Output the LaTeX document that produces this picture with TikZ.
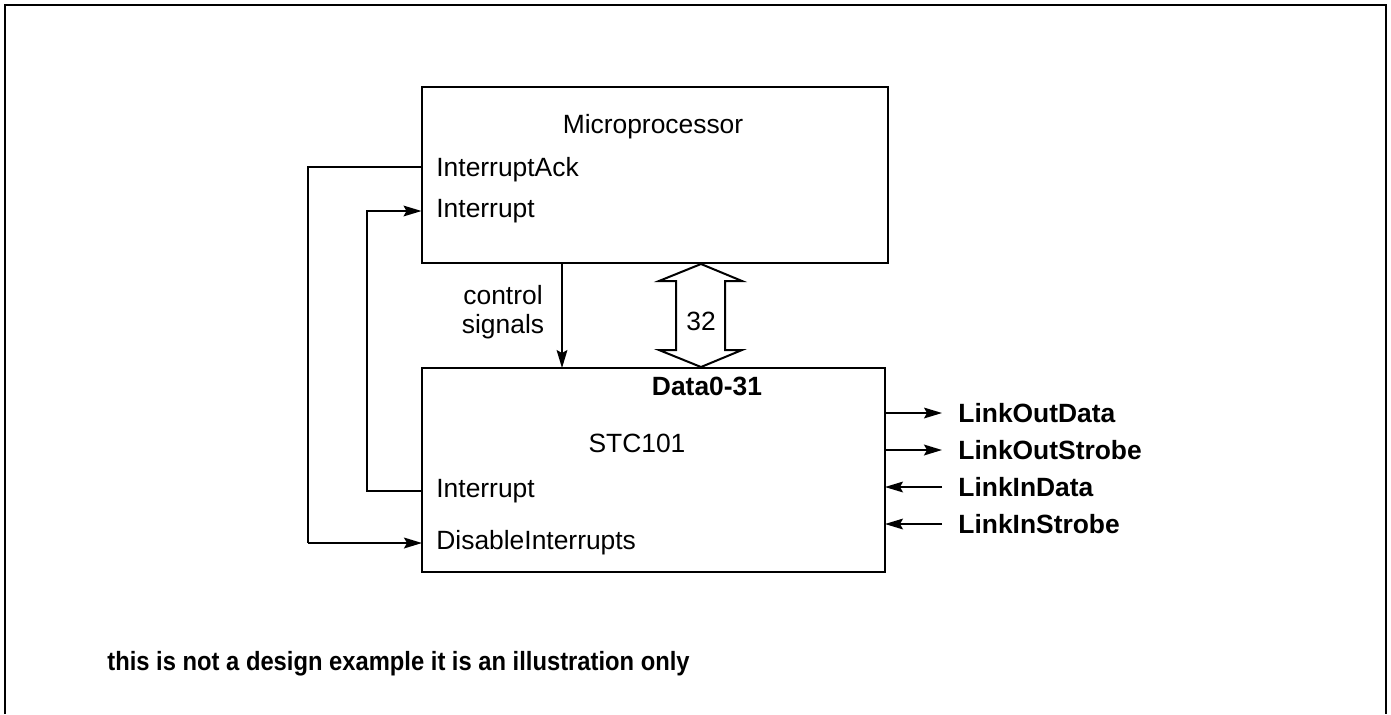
\documentclass[tikz,border=0pt]{standalone}
\usepackage{fontspec}
\setmainfont{Liberation Sans}
\usetikzlibrary{arrows.meta,calc}
\begin{document}
\begin{tikzpicture}[x=0.5pt,y=-0.5pt,
  blk/.style={draw,line width=1pt,rectangle,inner sep=0pt,outer sep=0pt},
  lbl/.style={font=\fontsize{13.2}{15}\selectfont,inner sep=0pt,anchor=west},
  blbl/.style={font=\fontsize{13.2}{15}\selectfont\bfseries,inner sep=0pt,anchor=west},
  wire/.style={line width=0.75pt},
  arr/.style={wire,-{Stealth[length=9pt,width=5.4pt,inset=1.5pt]}}]
\useasboundingbox (0,0) rectangle (1391,714);
\draw[line width=1pt] (5,714) -- (5,5) -- (1386,5) -- (1386,714);
% blocks
\node[blk,minimum width=233pt,minimum height=88pt] (mp) at (654.5,175) {};
\node[blk,minimum width=231.5pt,minimum height=102pt] (stc) at (653.5,470) {};
\node[font=\fontsize{13.2}{15}\selectfont,inner sep=0pt] (mpt) at (653,127) {Microprocessor};
\node[font=\fontsize{13.2}{15}\selectfont,inner sep=0pt] (stct) at (637,443) {STC101};
\node[font=\fontsize{13.2}{15}\selectfont\bfseries,inner sep=0pt] (dat) at (707,386) {Data0-31};
% left labels
\node[lbl] (ack) at (436,170) {InterruptAck};
\node[lbl] (mint) at (436,211) {Interrupt};
\node[lbl] (sint) at (436,491) {Interrupt};
\node[lbl] (dis) at (436,543) {DisableInterrupts};
\coordinate (c1) at (308,167);
\coordinate (c2) at (367,211);
% wires
\draw[wire] (mp.west |- c1) -- (c1) -- (c1 |- dis);
\draw[arr,line width=1pt] (c1 |- dis) -- (stc.west |- dis);
\draw[arr] (stc.west |- sint) -- (c2 |- sint) -- (c2) -- (mp.west |- c2);
% control signals
\coordinate (cs) at (562,263);
\draw[arr] (cs) -- (cs |- stc.north);
\node[font=\fontsize{13.2}{15}\selectfont,align=center,inner sep=0pt] (cst) at (503,312) {control\\[-0.5pt]signals};
% bus
\draw[line width=1pt,line join=miter] (701,264) -- (742,281) -- (725,281) -- (725,350) -- (742,350) -- (701,367) -- (659,350) -- (676,350) -- (676,281) -- (659,281) -- cycle;
\node[font=\fontsize{13.2}{15}\selectfont,inner sep=0pt] (bw) at (701,321) {32};
% right side links
\node[blbl] (lod) at (958,413) {LinkOutData};
\node[blbl] (los) at (958,450) {LinkOutStrobe};
\node[blbl] (lid) at (958,487) {LinkInData};
\node[blbl] (lis) at (958,524) {LinkInStrobe};
\coordinate (re) at (942,413);
\draw[arr] (stc.east |- lod) -- (re |- lod);
\draw[arr,line width=1pt] (stc.east |- los) -- (re |- los);
\draw[arr] (re |- lid) -- (stc.east |- lid);
\draw[arr] (re |- lis) -- (stc.east |- lis);
% note
\node[blbl] (note) at (107,664) {\scalebox{0.9}[1]{this is not a design example it is an illustration only}};
\end{tikzpicture}
\end{document}
